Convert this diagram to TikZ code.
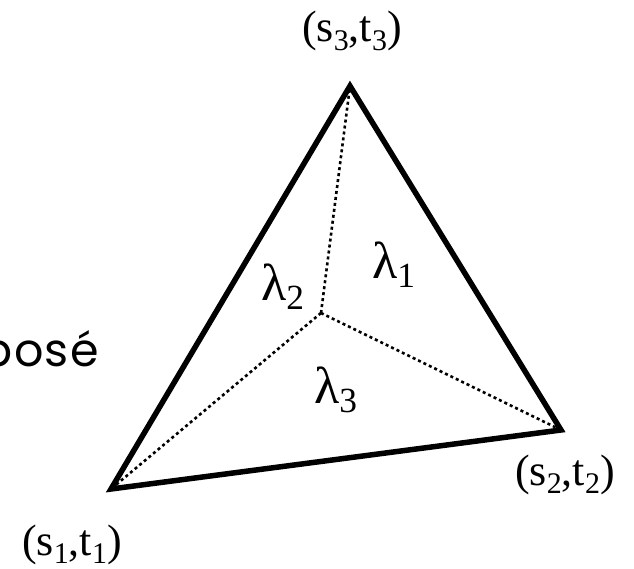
\documentclass[tikz,border=0pt]{standalone}
\usepackage{fontspec}
\setmainfont{Liberation Serif}
\newfontfamily\gillfont[LetterSpace=3]{Poppins}
\newcommand{\lsub}[1]{\raisebox{-0.19em}{\scalebox{0.68}{#1}}}
\begin{document}
\begin{tikzpicture}[x=1pt,y=-1pt,
  edge/.style={line width=5.5pt, line join=miter},
  split/.style={line width=2.6pt, dash pattern=on 3pt off 3pt},
  lab/.style={inner sep=0pt, anchor=base west, font=\fontsize{44}{48}\selectfont},
  lam/.style={inner sep=0pt, anchor=base west, font=\fontsize{52}{56}\selectfont}]
\useasboundingbox (0,0) rectangle (634,569);
\coordinate (A) at (111,489);
\coordinate (B) at (561,430);
\coordinate (C) at (350,86);
\coordinate (P) at (321,313);
\draw[split] (P) -- (A);
\draw[split] (P) -- (B);
\draw[split] (P) -- (C);
\draw[edge] (A) -- (B) -- (C) -- cycle;
\node[lab] (l3) at (302,42) {(s\lsub{3},t\lsub{3})};
\node[lab] (l2) at (515,485) {(s\lsub{2},t\lsub{2})};
\node[lab] (l1) at (22,555) {(s\lsub{1},t\lsub{1})};
\node[lam] (k1) at (372,278) {λ\lsub{1}};
\node[lam] (k2) at (261,300) {λ\lsub{2}};
\node[lam] (k3) at (314,403) {λ\lsub{3}};
\node[inner sep=0pt, anchor=base east, font=\gillfont\fontsize{46}{52}\selectfont] (t) at (99,366) {posé};
\end{tikzpicture}
\end{document}
